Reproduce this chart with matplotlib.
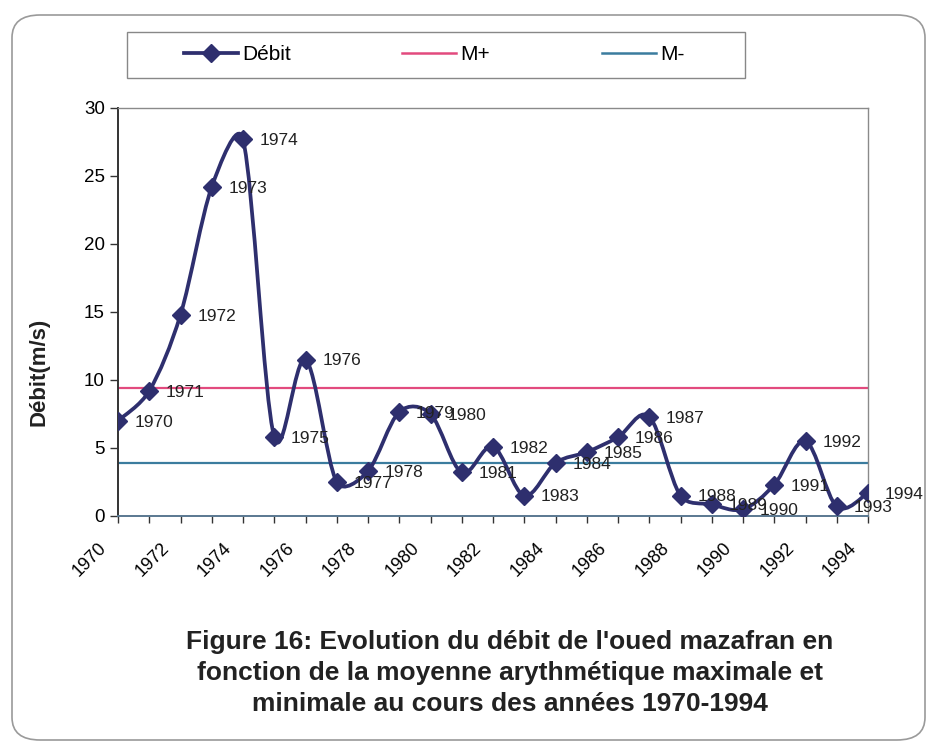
"""
Debit de l'oued Mazafran 1970-1994 avec moyennes M+ et M-
"""

import numpy as np
import matplotlib
matplotlib.use('Agg')
import matplotlib.pyplot as plt
from matplotlib.path import Path
from matplotlib.patches import PathPatch, FancyBboxPatch, Rectangle
from matplotlib.lines import Line2D
from matplotlib.transforms import ScaledTranslation

plt.rcParams['font.family'] = ['Liberation Sans', 'DejaVu Sans']

years = [1970, 1971, 1972, 1973, 1974, 1975, 1976, 1977, 1978, 1979, 1980, 1981,
         1982, 1983, 1984, 1985, 1986, 1987, 1988, 1989, 1990, 1991, 1992, 1993, 1994]
debit = [7.0, 9.2, 14.8, 24.2, 27.7, 5.8, 11.5, 2.5, 3.3, 7.65, 7.5, 3.2,
         5.1, 1.5, 3.9, 4.7, 5.8, 7.3, 1.5, 0.85, 0.5, 2.3, 5.5, 0.7, 1.7]
m_plus = 9.43
m_minus = 3.88
xtick_years = list(range(1970, 1995, 2))

navy = '#2E2F6E'
pink = '#E24A7E'
teal = '#3B7C9E'


def smooth_path(ax, xs, ys, k=0.4):
    # excel-like smoothed line: catmull-rom handles, clamped to the segment length
    pts = ax.transData.transform(np.column_stack([xs, ys]))
    n = len(pts)
    verts = [pts[0]]
    codes = [Path.MOVETO]
    for i in range(n - 1):
        p0 = pts[max(i - 1, 0)]
        p1 = pts[i]
        p2 = pts[i + 1]
        p3 = pts[min(i + 2, n - 1)]
        seg = np.hypot(*(p2 - p1))
        h1 = (p2 - p0) / 6.0
        h2 = (p3 - p1) / 6.0
        l1, l2 = np.hypot(*h1), np.hypot(*h2)
        if l1 > k * seg:
            h1 = h1 * k * seg / l1
        if l2 > k * seg:
            h2 = h2 * k * seg / l2
        verts += [p1 + h1, p2 - h2, p2]
        codes += [Path.CURVE4] * 3
    verts = ax.transData.inverted().transform(np.array(verts))
    return Path(verts, codes)


fig = plt.figure(figsize=(9.37, 7.53), dpi=100)

# outer frame
fig.patches.append(FancyBboxPatch((12/937, 1 - 740/753), 913/937, 725/753,
                                  boxstyle='round,pad=0,rounding_size=0.03',
                                  transform=fig.transFigure, fill=False,
                                  edgecolor='#9a9a9a', linewidth=1.2))

ax = fig.add_axes([118/937, 1 - 516/753, 750/937, 408/753])
ax.set_xlim(1970, 1994)
ax.set_ylim(0, 30)

ax.axhline(m_plus, color=pink, linewidth=1.6, zorder=2)
ax.axhline(m_minus, color=teal, linewidth=1.6, zorder=2)

ax.add_patch(PathPatch(smooth_path(ax, years, debit), fill=False, edgecolor=navy,
                       linewidth=2.7, zorder=3, capstyle='round', joinstyle='round'))
ax.plot(years, debit, linestyle='none', marker='D', markersize=9, color=navy, zorder=4)

for x, y in zip(years, debit):
    ax.annotate(str(x), xy=(x, y), xytext=(12, -1), textcoords='offset points',
                ha='left', va='center', fontsize=12.5, color='#222222', zorder=5)

ax.set_yticks(range(0, 31, 5))
ax.set_xticks(xtick_years)
ax.set_xticks(years, minor=True)
ax.set_xticklabels([str(y) for y in xtick_years], rotation=45, ha='right', va='center',
                   rotation_mode='anchor', fontsize=13)
ax.tick_params(axis='y', labelsize=13.5, length=5.5, pad=4, direction='out', width=1,
               color='#333333')
ax.tick_params(axis='x', which='both', length=5, pad=16, direction='out', width=1,
               color='#333333')
for lab in ax.get_xticklabels():
    lab.set_transform(lab.get_transform() + ScaledTranslation(-10/72, 0, fig.dpi_scale_trans))

for side in ['top', 'right']:
    ax.spines[side].set_color('#8a8a8a')
    ax.spines[side].set_linewidth(1)
ax.spines['left'].set_color('#333333')
ax.spines['left'].set_linewidth(1.4)
ax.spines['bottom'].set_color('#5a7890')
ax.spines['bottom'].set_linewidth(1.4)

fig.text(39/937, 1 - 372/753, 'Débit(m/s)', rotation=90, ha='center', va='center',
         fontsize=16, fontweight='bold', color='#222222')

# legend box
fig.patches.append(Rectangle((127/937, 1 - 78/753), 618/937, 46/753,
                             transform=fig.transFigure, fill=False,
                             edgecolor='#888888', linewidth=1))
handles = [Line2D([], [], color=navy, linewidth=2.7, marker='D', markersize=9),
           Line2D([], [], color=pink, linewidth=1.8),
           Line2D([], [], color=teal, linewidth=1.8)]
fig.legend(handles, ['Débit', 'M+', 'M-'], loc='center', ncol=3,
           bbox_to_anchor=(434/937, 1 - 55/753), frameon=False, fontsize=15,
           handlelength=2.6, handletextpad=0.2, columnspacing=5.35)

caption = ("Figure 16: Evolution du débit de l'oued mazafran en\n"
           "fonction de la moyenne arythmétique maximale et\n"
           "minimale au cours des années 1970-1994")
fig.text(510/937, 1 - 673/753, caption, ha='center', va='center', fontsize=19,
         fontweight='bold', linespacing=1.35, color='#222222')

fig.savefig('out.png', dpi=100)
plt.close(fig)
